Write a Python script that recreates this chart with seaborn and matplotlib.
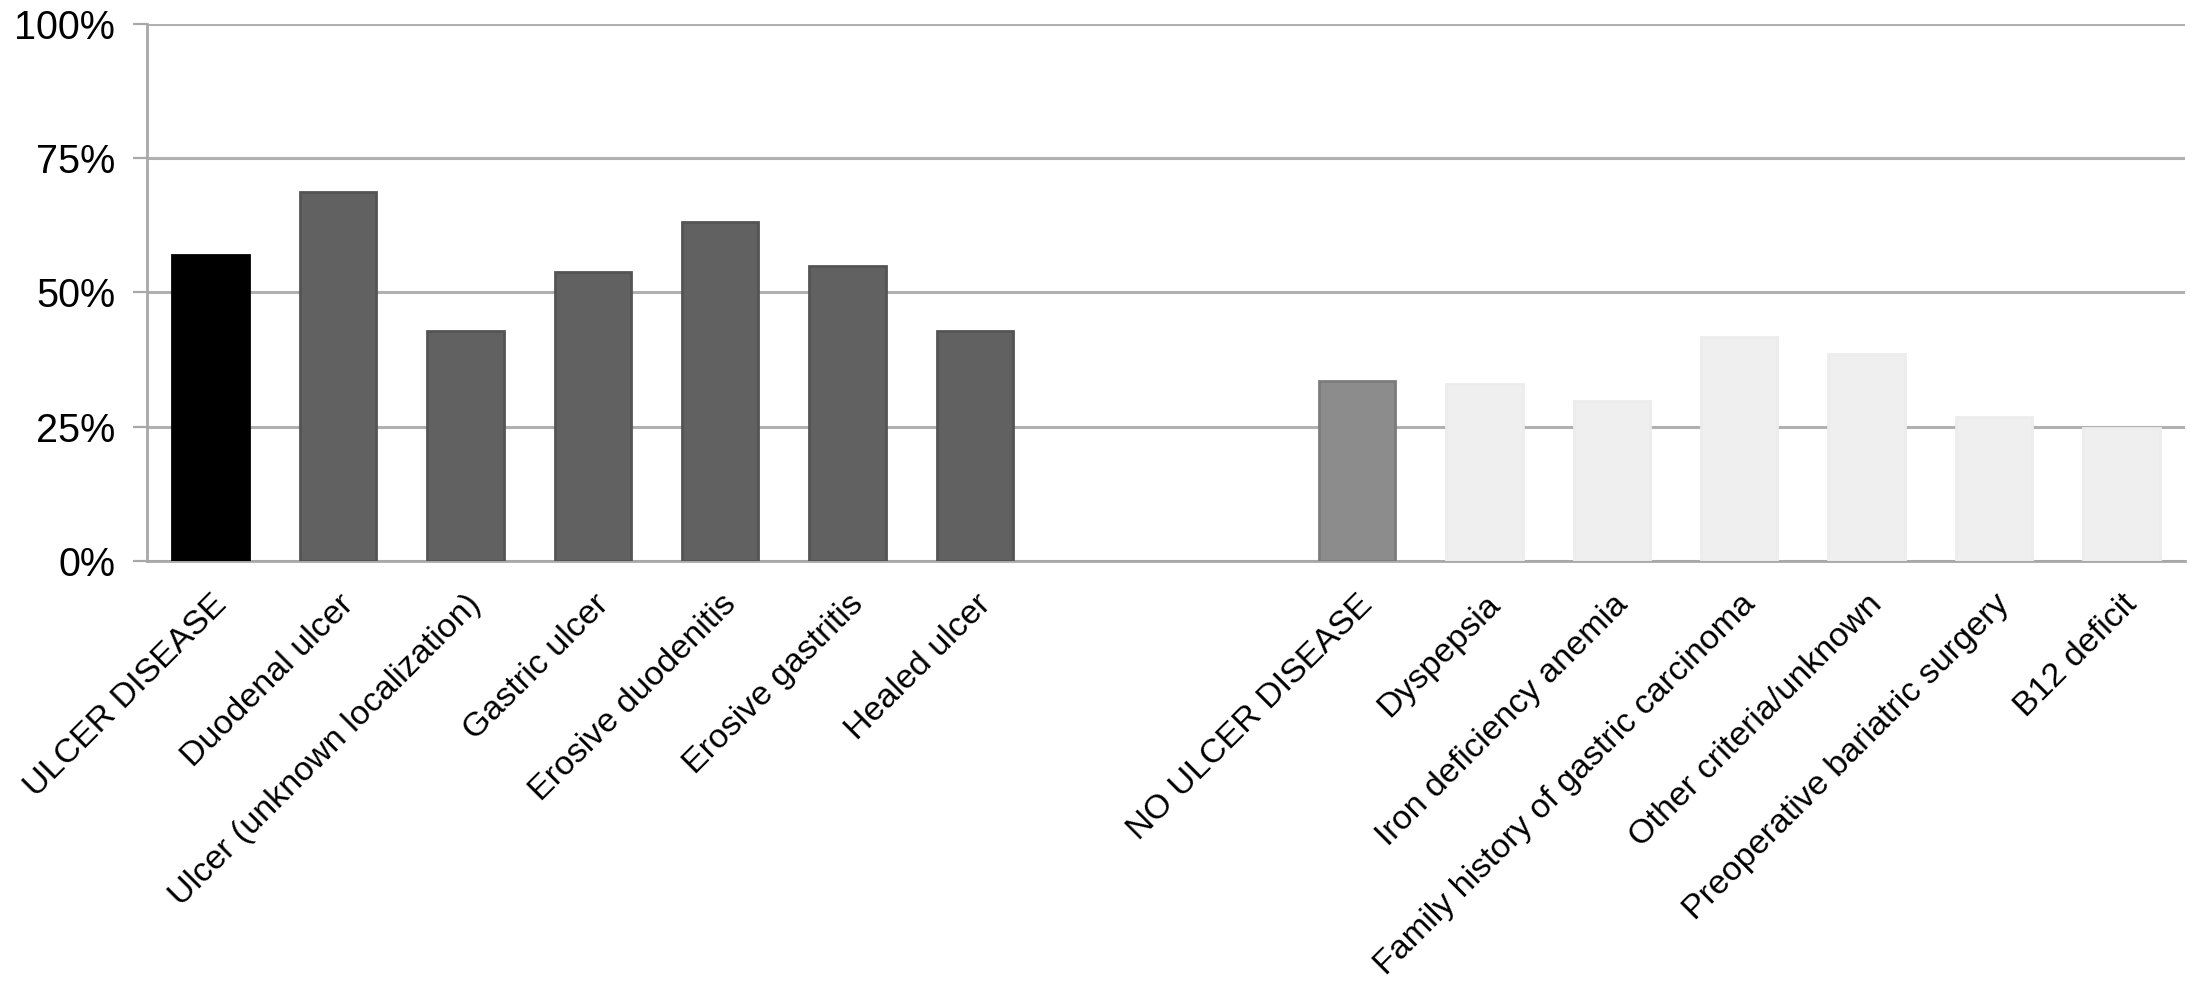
import matplotlib

matplotlib.use("Agg")
import matplotlib.pyplot as plt
import numpy as np
import pandas as pd
import seaborn as sns
from matplotlib.ticker import FixedLocator, PercentFormatter

# categories in display order; two blank slots separate the groups
ulcer_labels = [
    "ULCER DISEASE",
    "Duodenal ulcer",
    "Ulcer (unknown localization)",
    "Gastric ulcer",
    "Erosive duodenitis",
    "Erosive gastritis",
    "Healed ulcer",
]
ulcer_values = [57.0, 68.8, 42.8, 53.9, 63.2, 54.9, 42.8]

no_ulcer_labels = [
    "NO ULCER DISEASE",
    "Dyspepsia",
    "Iron deficiency anemia",
    "Family history of gastric carcinoma",
    "Other criteria/unknown",
    "Preoperative bariatric surgery",
    "B12 deficit",
]
no_ulcer_values = [33.6, 32.9, 29.8, 41.7, 38.6, 26.8, 24.7]

gap_labels = [" ", "  "]
y_ticks = [0, 25, 50, 75, 100]

order = ulcer_labels + gap_labels + no_ulcer_labels

df = pd.DataFrame(
    {
        "category": ulcer_labels + no_ulcer_labels,
        "percent": ulcer_values + no_ulcer_values,
    }
)

# fill / edge colours: totals stand out, subgroups softer
fill = {}
edge = {}
for i, name in enumerate(ulcer_labels):
    fill[name] = "#000000" if i == 0 else "#616161"
    edge[name] = "#000000" if i == 0 else "#545454"
for i, name in enumerate(no_ulcer_labels):
    fill[name] = "#8c8c8c" if i == 0 else "#efefef"
    edge[name] = "#7c7c7c" if i == 0 else "#ececec"

sns.set_style("white")
plt.rcParams["font.family"] = ["Liberation Sans", "DejaVu Sans"]

fig = plt.figure(figsize=(21.91, 9.86), dpi=100)
ax = fig.add_axes([0.0671, 0.431, 0.9302, 0.5447])

sns.barplot(
    data=df,
    x="category",
    y="percent",
    hue="category",
    order=order,
    hue_order=ulcer_labels + no_ulcer_labels,
    palette=fill,
    width=0.6,
    legend=False,
    saturation=1,
    ax=ax,
    zorder=3,
)

for patch in ax.patches:
    idx = int(round(patch.get_x() + patch.get_width() / 2))
    name = order[idx]
    if name in edge:
        patch.set_edgecolor(edge[name])
        patch.set_linewidth(2.0)

ax.set_xlim(-0.5, len(order) - 0.5)
ax.set_ylim(0, 100)
ax.set_yticks(y_ticks)
ax.yaxis.set_major_formatter(PercentFormatter(decimals=0))
ax.grid(axis="y", color="#b0b0b0", linewidth=2.2, zorder=0)
ax.set_axisbelow(True)

ax.set_xlabel("")
ax.set_ylabel("")

for side in ["top", "right"]:
    ax.spines[side].set_visible(False)
for side in ["left", "bottom"]:
    ax.spines[side].set_color("#a8a8a8")
    ax.spines[side].set_linewidth(2.0)

# category boundaries get small tick marks, labels sit at centres
ax.xaxis.set_minor_locator(FixedLocator(np.arange(-0.5, len(order), 1.0)))
ax.tick_params(axis="x", which="minor", length=9, width=1.6, color="#a8a8a8", direction="out")
ax.tick_params(axis="x", which="major", length=0, pad=20, labelsize=24.5, labelcolor="black")
ax.tick_params(axis="y", length=10, width=1.6, color="#a8a8a8", pad=13, labelsize=28.5,
               labelcolor="black", left=True)
ax.set_xticks(range(len(order)))
ax.set_xticklabels(order, rotation=45, ha="right", va="top", rotation_mode="anchor")

fig.savefig("out.png", dpi=100)
